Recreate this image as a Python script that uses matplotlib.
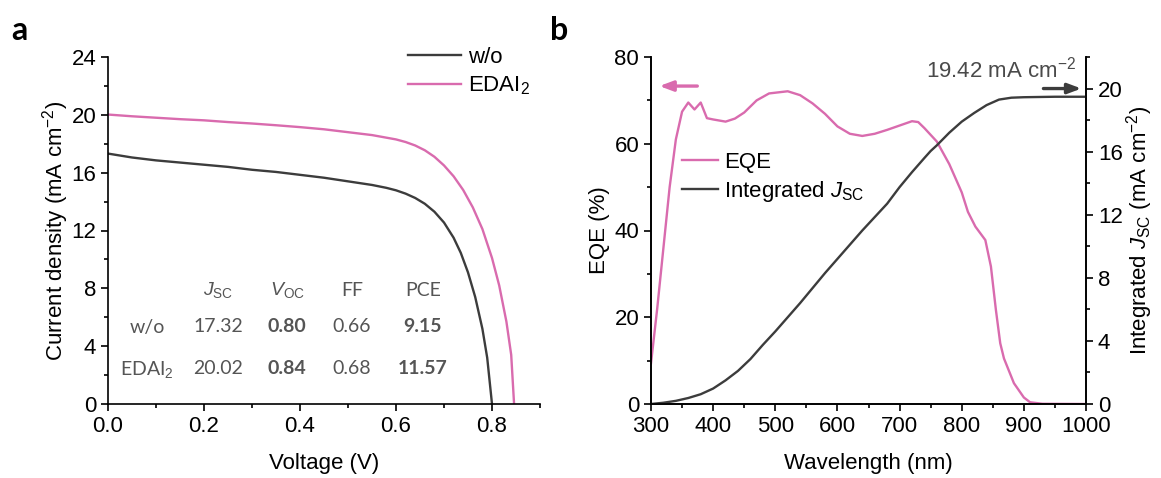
import matplotlib
matplotlib.use("Agg")
import matplotlib.pyplot as plt
from matplotlib.ticker import MultipleLocator

# ---------------- data ----------------
# J-V curves (panel a)
v_wo = [0.00, 0.05, 0.10, 0.15, 0.20, 0.25, 0.30, 0.35, 0.40, 0.45, 0.50, 0.55,
        0.58, 0.60, 0.62, 0.64, 0.66, 0.68, 0.70, 0.72, 0.735, 0.75, 0.765, 0.78, 0.79, 0.80]
j_wo = [17.32, 17.05, 16.85, 16.70, 16.55, 16.40, 16.20, 16.05, 15.85, 15.65, 15.40, 15.15,
        14.95, 14.78, 14.55, 14.25, 13.85, 13.30, 12.55, 11.50, 10.45, 9.10, 7.40, 5.20, 3.20, 0.00]
v_ed = [0.00, 0.05, 0.10, 0.15, 0.20, 0.25, 0.30, 0.35, 0.40, 0.45, 0.50, 0.55,
        0.60, 0.62, 0.64, 0.66, 0.68, 0.70, 0.72, 0.74, 0.76, 0.78, 0.80, 0.815, 0.83, 0.84, 0.846]
j_ed = [20.02, 19.90, 19.80, 19.70, 19.62, 19.50, 19.40, 19.28, 19.15, 19.00, 18.80, 18.60,
        18.30, 18.12, 17.88, 17.55, 17.10, 16.50, 15.75, 14.80, 13.60, 12.10, 10.10, 8.20, 5.70,
        3.40, 0.00]

# table (panel a)
table_cols = ["$J_{\\rm SC}$", "$V_{\\rm OC}$", "FF", "PCE"]
table_rows = ["w/o", "EDAI$_2$"]
table_vals = [["17.32", "0.80", "0.66", "9.15"],
              ["20.02", "0.84", "0.68", "11.57"]]
table_bold = [False, True, False, True]

# EQE (panel b)
wl_eqe = [300, 310, 320, 330, 340, 350, 360, 370, 380, 390, 400, 420, 435, 450, 470, 490,
          520, 540, 560, 580, 600, 620, 640, 660, 680, 700, 720, 730, 740, 760, 780, 800,
          810, 822, 838, 847, 855, 862, 868, 884, 900, 910, 930, 1000]
eqe = [9.4, 22.0, 36.0, 50.0, 61.0, 67.4, 69.5, 67.9, 69.5, 65.9, 65.6, 65.1, 65.8, 67.2,
       70.0, 71.6, 72.1, 71.2, 69.3, 66.9, 64.0, 62.3, 61.8, 62.3, 63.2, 64.2, 65.2, 65.0,
       63.6, 60.5, 55.3, 48.8, 44.3, 40.9, 37.8, 31.7, 21.7, 14.0, 10.5, 4.8, 1.5, 0.4,
       0.05, 0.0]

# integrated Jsc (panel b)
wl_int = [300, 320, 340, 360, 380, 400, 420, 440, 460, 480, 500, 520, 540, 560, 580, 600,
          620, 640, 660, 680, 700, 720, 740, 750, 760, 780, 800, 820, 840, 860, 880, 900,
          950, 1000]
jsc_int = [0.0, 0.08, 0.20, 0.38, 0.62, 0.98, 1.50, 2.10, 2.85, 3.75, 4.60, 5.50, 6.40,
           7.35, 8.30, 9.20, 10.10, 11.00, 11.85, 12.70, 13.75, 14.70, 15.60, 16.04, 16.40,
           17.20, 17.90, 18.45, 18.95, 19.30, 19.42, 19.45, 19.48, 19.48]

# ---------------- style ----------------
PINK = "#D96BAE"
DARK = "#3C3C3C"
GRAY = "#555555"
AXFONT = "Liberation Sans"
FS = 16

plt.rcParams["font.family"] = [AXFONT, "DejaVu Sans"]
plt.rcParams["mathtext.fontset"] = "custom"
plt.rcParams["mathtext.rm"] = AXFONT
plt.rcParams["mathtext.it"] = AXFONT + ":italic"
plt.rcParams["mathtext.bf"] = AXFONT + ":bold"
plt.rcParams["axes.linewidth"] = 1.2

W, H = 1161, 478
fig = plt.figure(figsize=(W / 100, H / 100), dpi=100)


def px_axes(x0, y0, x1, y1):
    return fig.add_axes([x0 / W, 1 - y1 / H, (x1 - x0) / W, (y1 - y0) / H])


def style_ticks(ax):
    ax.tick_params(which="major", direction="out", length=5, width=1.2, labelsize=FS)
    ax.tick_params(which="minor", direction="out", length=3, width=1.2)


# ---------------- panel a ----------------
ax1 = px_axes(108, 57, 540, 404)
ax1.plot(v_wo, j_wo, color=DARK, lw=1.7, label="w/o")
ax1.plot(v_ed, j_ed, color=PINK, lw=1.7, label="EDAI$_2$")
ax1.set_xlim(0, 0.9)
ax1.set_ylim(0, 24)
ax1.xaxis.set_major_locator(MultipleLocator(0.2))
ax1.xaxis.set_minor_locator(MultipleLocator(0.1))
ax1.yaxis.set_major_locator(MultipleLocator(4))
ax1.yaxis.set_minor_locator(MultipleLocator(2))
ax1.xaxis.set_major_formatter(matplotlib.ticker.FormatStrFormatter("%.1f"))
for s in ["top", "right"]:
    ax1.spines[s].set_visible(False)
style_ticks(ax1)
ax1.set_xlabel("Voltage (V)", fontsize=FS, labelpad=12)
ax1.set_ylabel("Current density (mA cm$^{-2}$)", fontsize=FS, labelpad=0)
ax1.legend(loc="upper left", bbox_to_anchor=(408 / W, 1 - 47 / H), bbox_transform=fig.transFigure,
           frameon=False, fontsize=FS, handlelength=2.4, handletextpad=0.3, labelspacing=0.3,
           borderpad=0, borderaxespad=0)

# table
TFONT = ["Lato", "DejaVu Sans"]
TFS = 14
col_x = [218, 287, 352, 423]
row_label_x = 147
head_y, row_y = 290, [327, 369]


def fig_text(x, y, s, **kw):
    fig.text(x / W, 1 - y / H, s, ha="center", va="center", color=GRAY, fontsize=TFS,
             family=TFONT, **kw)


for cx, c in zip(col_x, table_cols):
    fig_text(cx, head_y, c)
for ry, rl, vals in zip(row_y, table_rows, table_vals):
    fig_text(row_label_x, ry, rl)
    for cx, v, b in zip(col_x, vals, table_bold):
        fig_text(cx, ry, v, fontweight="bold" if b else "normal")

# ---------------- panel b ----------------
ax2 = px_axes(651, 57, 1086, 404)
ax3 = ax2.twinx()
l1, = ax2.plot(wl_eqe, eqe, color=PINK, lw=1.7, label="EQE")
l2, = ax3.plot(wl_int, jsc_int, color=DARK, lw=1.7, label="Integrated $J_{\\rm SC}$")
ax2.set_xlim(300, 1000)
ax2.set_ylim(0, 80)
ax3.set_ylim(0, 22)
ax2.xaxis.set_major_locator(MultipleLocator(100))
ax2.xaxis.set_minor_locator(MultipleLocator(50))
ax2.yaxis.set_major_locator(MultipleLocator(20))
ax2.yaxis.set_minor_locator(MultipleLocator(10))
ax3.yaxis.set_major_locator(MultipleLocator(4))
ax3.yaxis.set_minor_locator(MultipleLocator(2))
for a in (ax2, ax3):
    a.spines["top"].set_visible(False)
    style_ticks(a)
ax2.set_xlabel("Wavelength (nm)", fontsize=FS, labelpad=12)
ax2.set_ylabel("EQE (%)", fontsize=FS, labelpad=3)
ax3.set_ylabel("Integrated $J_{\\rm SC}$ (mA cm$^{-2}$)", fontsize=FS, labelpad=1)
ax3.legend([l1, l2], [l1.get_label(), l2.get_label()], loc="upper left",
           bbox_to_anchor=(682 / W, 1 - 152 / H), bbox_transform=fig.transFigure,
           frameon=False, fontsize=FS, handlelength=1.6, handletextpad=0.3, labelspacing=0.25,
           borderpad=0, borderaxespad=0)

# arrows
ax2.annotate("", xy=(309, 73.3), xytext=(379, 73.3),
             arrowprops=dict(arrowstyle="-|>,head_length=0.8,head_width=0.3", color=PINK, lw=2.4))
ax3.annotate("", xy=(997, 20.0), xytext=(927, 20.0),
             arrowprops=dict(arrowstyle="-|>,head_length=0.8,head_width=0.3", color=DARK, lw=2.4))
fig.text(1076 / W, 1 - 70 / H, "19.42 mA cm$^{-2}$", ha="right", va="center", fontsize=FS,
         color="#4a4a4a")

# panel labels
fig.text(11 / W, 1 - 30 / H, "a", fontsize=23, fontweight="bold", family=TFONT,
         ha="left", va="center", color="black")
fig.text(550 / W, 1 - 30 / H, "b", fontsize=23, fontweight="bold", family=TFONT,
         ha="left", va="center", color="black")

fig.savefig("out.png", dpi=100)
